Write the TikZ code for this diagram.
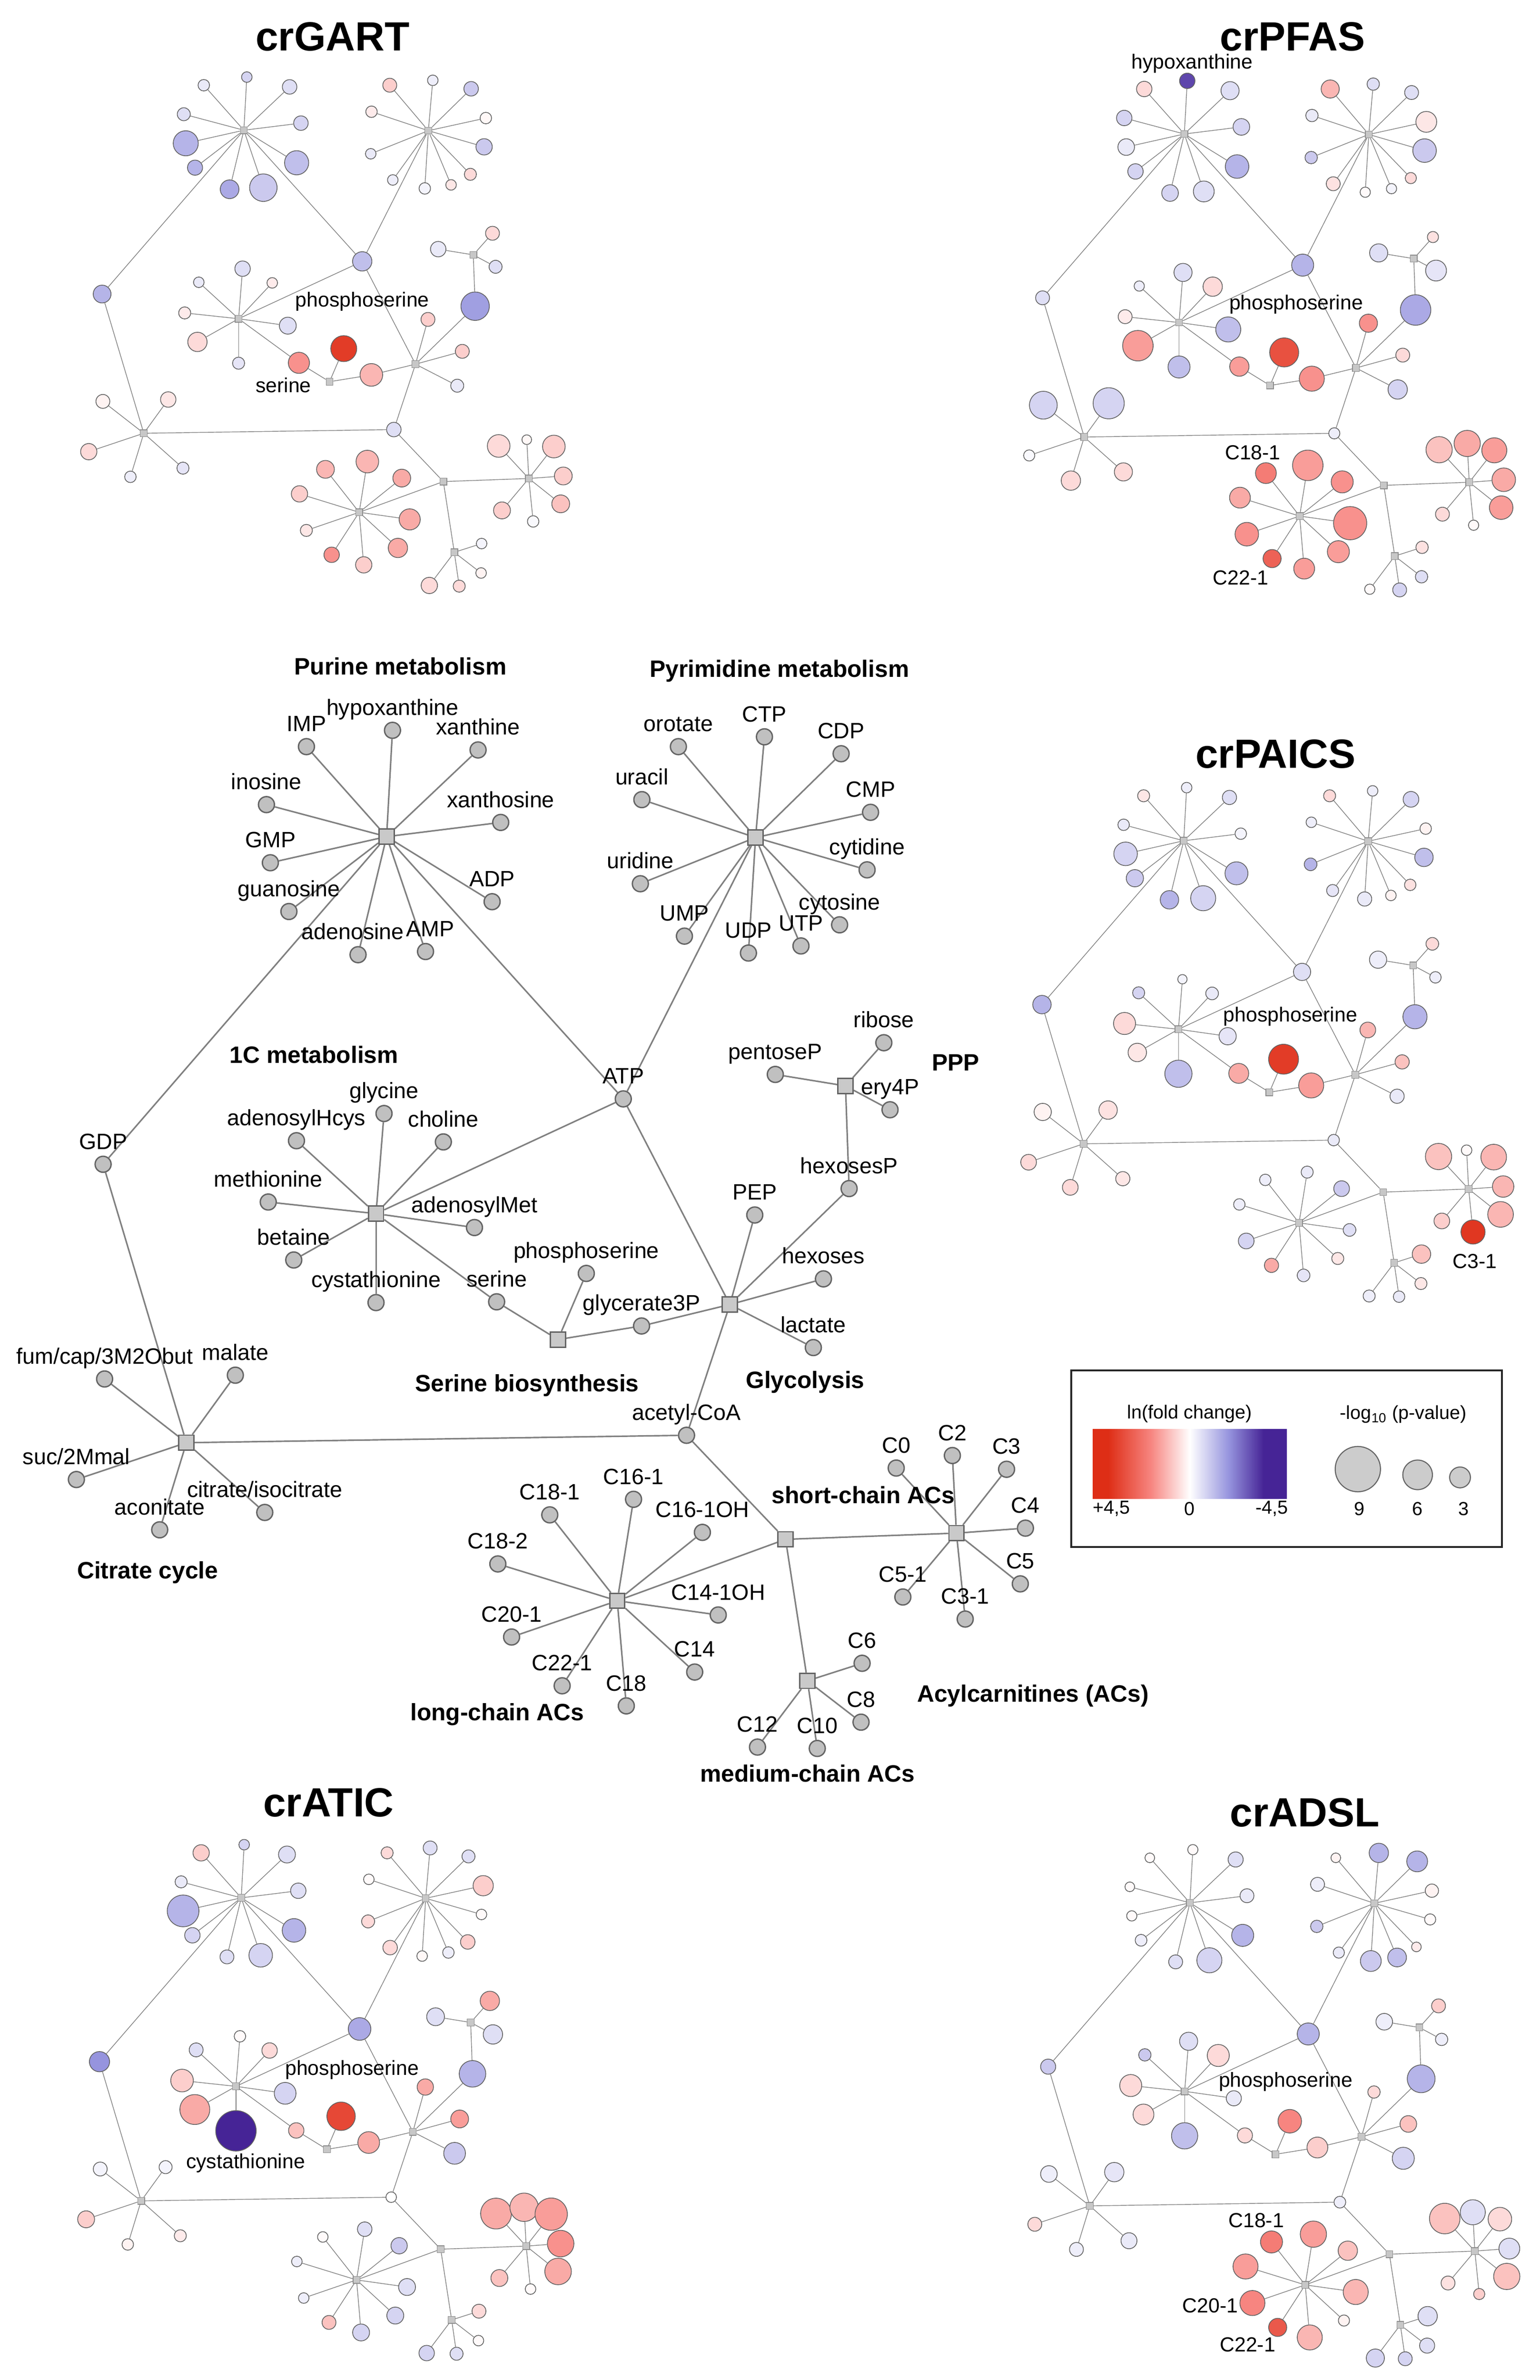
\documentclass[tikz,border=0pt]{standalone}
\usepackage{fontspec}
\setmainfont{Liberation Sans}
\usepackage{tikz}
\usetikzlibrary{calc,backgrounds}

\definecolor{fcred}{RGB}{222,46,22}
\definecolor{fcrmid}{RGB}{247,133,128}
\definecolor{fcblue}{RGB}{70,36,150}
\definecolor{fcbmid}{RGB}{150,148,222}
\definecolor{edgegray}{RGB}{128,128,128}
\definecolor{nodegray}{RGB}{192,192,192}
\definecolor{rimgray}{RGB}{100,100,100}

\pgfdeclarehorizontalshading{fcbar}{100bp}{color(0bp)=(fcred); color(29bp)=(fcred); color(40bp)=(fcrmid); color(50bp)=(white); color(60bp)=(fcbmid); color(69bp)=(fcblue); color(100bp)=(fcblue)}

% fill colour from a signed fold change code (+ red, - blue)
\newcommand{\fcset}[1]{%
    \pgfmathtruncatemacro\fcv{#1}%
    \pgfmathtruncatemacro\fca{abs(\fcv)}%
    \ifnum\fcv<0 \def\fcm{fcbmid}\def\fcs{fcblue}\else\def\fcm{fcrmid}\def\fcs{fcred}\fi
    \ifnum\fca>50
        \pgfmathtruncatemacro\fcb{2*(\fca-50)}%
        \colorlet{fctmp}{\fcs!\fcb!\fcm}%
    \else
        \pgfmathtruncatemacro\fcb{2*\fca}%
        \colorlet{fctmp}{\fcm!\fcb!white}%
    \fi}

\def\hublist{pur/256.1/554.1, pyr/500.5/554.7, onec/249.1/803.8, serh/369.6/887.2,
glyh/483.5/864.0, ppp/560.1/719.2, cit/123.5/955.5, acyl/520.4/1019.5,
lng/408.9/1060.2, sht/633.6/1015.4, med/534.9/1113.2}

\def\metlist{IMP/203.0/494.5/IMP, hypox/260.0/483.7/hypoxanthine, xanth/316.7/496.7/xanthine,
inos/176.5/532.9/inosine, xanthos/331.7/544.7/xanthosine, GMP/179.1/571.4/GMP,
ADP/326.0/597.2/ADP, guano/191.4/603.7/guanosine, adeno/237.2/632.3/adenosine,
AMP/281.9/630.2/AMP,
orot/449.4/494.5/orotate, CTP/506.4/488.0/CTP, CDP/557.2/499.2/CDP,
urac/425.2/529.6/uracil, CMP/576.7/538.0/CMP, cytid/574.4/576.1/cytidine,
urid/424.2/585.3/uridine, cytos/556.2/612.5/cytosine, UMP/453.4/620.0/UMP,
UDP/495.8/631.2/UDP, UTP/530.6/626.5/UTP,
ATP/412.9/727.8/ATP, GDP/68.3/771.1/GDP,
glyc/254.4/737.5/glycine, aHcys/196.4/755.5/adenosylHcys, chol/293.7/756.3/choline,
meth/177.7/796.1/methionine, aMet/314.3/813.0/adenosylMet, beta/194.6/834.5/betaine,
cysta/249.1/862.7/cystathionine, ser/329.0/862.2/serine,
pser/388.4/843.4/phosphoserine, g3P/425.0/878.2/glycerate3P,
PEP/500.0/804.7/PEP, hexs/545.5/847.0/hexoses, lact/538.8/892.5/lactate,
hexP/562.5/787.2/hexosesP,
pent/513.6/711.6/pentoseP, ribo/585.5/690.6/ribose, ery/589.6/735.0/ery4P,
fum/69.3/913.3/{fum/cap/3M2Obut}, mal/155.9/910.8/malate, suc/50.6/979.9/{suc/2Mmal},
acon/105.8/1013.2/aconitate, citr/175.4/1001.7/{citrate/isocitrate},
acCoA/454.8/950.6/acetyl-CoA,
C181/364.2/1003.3/C18-1, C161/419.7/993.0/C16-1, C161OH/465.3/1014.9/C16-1OH,
C182/329.8/1035.8/C18-2, C141OH/475.8/1069.6/C14-1OH, C201/338.9/1084.2/C20-1,
C14/460.2/1107.4/C14, C221/372.4/1116.5/C22-1, C18/414.9/1129.8/C18,
C0/593.7/972.3/C0, C2/630.9/964.0/C2, C3/666.8/973.1/C3, C4/679.3/1012.1/C4,
C5/675.9/1049.0/C5, C51/598.1/1057.7/C5-1, C31/639.4/1072.3/C3-1,
C6/571.1/1101.6/C6, C8/570.4/1140.6/C8, C12/501.8/1157.1/C12, C10/541.4/1158.0/C10}

\def\netedges{pur/IMP, pur/hypox, pur/xanth, pur/inos, pur/xanthos, pur/GMP, pur/ADP,
pur/guano, pur/adeno, pur/AMP, pur/ATP, pur/GDP,
pyr/orot, pyr/CTP, pyr/CDP, pyr/urac, pyr/CMP, pyr/cytid, pyr/urid, pyr/cytos,
pyr/UMP, pyr/UDP, pyr/UTP, pyr/ATP,
onec/ATP, glyh/ATP,
onec/glyc, onec/aHcys, onec/chol, onec/meth, onec/aMet, onec/beta, onec/cysta, onec/ser,
serh/ser, serh/pser, serh/g3P,
glyh/g3P, glyh/PEP, glyh/hexs, glyh/lact, glyh/hexP, glyh/acCoA,
ppp/hexP, ppp/pent, ppp/ribo, ppp/ery,
cit/GDP, cit/fum, cit/mal, cit/suc, cit/acon, cit/citr, cit/acCoA,
acyl/acCoA, acyl/lng, acyl/sht, acyl/med,
lng/C181, lng/C161, lng/C161OH, lng/C182, lng/C141OH, lng/C201, lng/C14, lng/C221, lng/C18,
sht/C0, sht/C2, sht/C3, sht/C4, sht/C5, sht/C51, sht/C31,
med/C6, med/C8, med/C12, med/C10}

% one small coloured copy of the network, half size
\newcommand{\metpanel}[3]{%
    \foreach \hb/\x/\y in \hublist {
        \node[shub] (#1-\hb) at ($(#2)+0.5*(c-\hb)$) {};
    }
    \foreach \n/\rad/\fc in {#3} {
        \fcset{\fc}
        \node[smet, minimum size=2*\rad pt, fill=fctmp] (#1-\n) at ($(#2)+0.5*(c-\n)$) {};
    }
    \begin{scope}[on background layer]
        \foreach \hb/\n in \netedges {
            \draw[sedge] (#1-\hb) -- (#1-\n);
        }
    \end{scope}%
}

\tikzset{
    cmet/.style={circle, draw=rimgray, fill=nodegray, line width=0.9pt, minimum size=10.6pt, inner sep=0pt},
    chub/.style={rectangle, draw=rimgray, fill=nodegray!85, line width=0.9pt, minimum size=10pt, inner sep=0pt},
    cedge/.style={draw=edgegray, line width=1pt},
    clabel/.style={font=\fontsize{14.7}{17}\selectfont, inner sep=0pt, anchor=base},
    lbl adeno/.style={xshift=-3.5pt},
    lbl AMP/.style={xshift=3pt},
    grouplabel/.style={font=\fontsize{15.7}{18}\selectfont\bfseries, inner sep=0pt},
    smet/.style={circle, draw=black!62, line width=0.5pt, inner sep=0pt},
    shub/.style={rectangle, draw=black!45, fill=black!22, line width=0.4pt, minimum size=4.6pt, inner sep=0pt},
    sedge/.style={draw=black!50, line width=0.45pt},
    slabel/.style={font=\fontsize{13.5}{15}\selectfont, inner sep=0pt},
    ptitle/.style={font=\fontsize{27}{30}\selectfont\bfseries, inner sep=0pt},
    legtext/.style={font=\fontsize{12.5}{14}\selectfont, inner sep=0pt},
    legcirc/.style={circle, draw=rimgray, fill=black!20, line width=0.7pt, inner sep=0pt},
}

\begin{document}
\begin{tikzpicture}[x=1pt, y=-1pt]
    \useasboundingbox (0,0) rectangle (1020,1576.3);
    \begin{scope}[on background layer]
        \fill[white] (0,0) rectangle (1020,1576.3);
    \end{scope}

    % central network
    \foreach \hb/\x/\y in \hublist {
        \node[chub] (c-\hb) at (\x,\y) {};
    }
    \foreach \n/\x/\y/\lab in \metlist {
        \node[cmet] (c-\n) at (\x,\y) {};
        \node[clabel, lbl \n/.try] (l-\n) at ([yshift=10pt]c-\n.center) {\lab};
    }
    \begin{scope}[on background layer]
        \foreach \hb/\n in \netedges {
            \draw[cedge] (c-\hb) -- (c-\n);
        }
    \end{scope}

    \node[grouplabel] (gpur) at (265.3,441.4) {Purine metabolism};
    \node[grouplabel] (gpyr) at (516.4,444.5) {Pyrimidine metabolism};
    \node[grouplabel] (gonec) at (208,698.6) {1C metabolism};
    \node[grouplabel] (gppp) at (633,703.7) {PPP};
    \node[grouplabel] (gser) at (349.1,917.5) {Serine biosynthesis};
    \node[grouplabel] (ggly) at (533.4,915.5) {Glycolysis};
    \node[grouplabel] (gcit) at (97.8,1041.5) {Citrate cycle};
    \node[grouplabel] (gsht) at (571.8,990) {short-chain ACs};
    \node[grouplabel] (glng) at (329.4,1135.5) {long-chain ACs};
    \node[grouplabel] (gmed) at (534.9,1174.5) {medium-chain ACs};
    \node[grouplabel] (gacs) at (684.3,1123) {Acylcarnitines (ACs)};

    % legend
    \draw[draw=black!85, line width=1.3pt] (709.6,907.7) rectangle (995,1024.6);
    \shade[shading=fcbar] (723.9,946.4) rectangle (852.5,992.5);
    \node[legtext] (lgfc) at (788,936.3) {ln(fold change)};
    \node[legtext] (lgpv) at (929.6,936.8) {-log\textsubscript{10} (p-value)};
    \node[legtext] (lgplus) at (736.3,999.2) {+4,5};
    \node[legtext] (lgzero) at (788,999.2) {0};
    \node[legtext] (lgminus) at (842.5,999.2) {-4,5};
    \node[legcirc, minimum size=30pt] (lc9) at (899.5,973) {};
    \node[legcirc, minimum size=19.6pt] (lc6) at (939.1,976.8) {};
    \node[legcirc, minimum size=13.8pt] (lc3) at (967.2,978.5) {};
    \node[legtext] (ln9) at (900.5,999.2) {9};
    \node[legtext] (ln6) at (939.1,999.2) {6};
    \node[legtext] (ln3) at (969.7,999.2) {3};

    % coloured panels
    \coordinate (oGART) at (33.5,-190.8);
    \coordinate (oPFAS) at (656.5,-188.3);
    \coordinate (oPAICS) at (656.1,279.8);
    \coordinate (oATIC) at (31.75,979.9);
    \coordinate (oADSL) at (660.2,983.2);

    \metpanel{GART}{oGART}{IMP/3.8/-10, hypox/3.5/-20, xanth/4.8/-15, inos/4.3/-15, xanthos/4.8/-20,
        GMP/8.3/-35, ADP/8/-30, guano/5/-35, adeno/6.2/-40, AMP/9.1/-25,
        orot/4.6/20, CTP/3.5/-8, CDP/4.8/-25, urac/3.8/8, CMP/3.8/3, cytid/5.4/-25, urid/3.5/-10,
        cytos/4/15, UMP/3.5/-8, UDP/3.8/-5, UTP/3.5/10,
        ATP/6.4/-30, GDP/5.9/-35,
        glyc/5.1/-15, aHcys/3.5/-10, chol/3.5/8, meth/4/8, aMet/5.6/-15, beta/6.4/15, cysta/4/-12, ser/7/45,
        pser/8.6/92, g3P/7.5/30,
        PEP/4.6/20, hexP/9.4/-45, hexs/4.6/20, lact/4.3/-10,
        pent/5.1/-10, ribo/4.6/15, ery/4.3/-15,
        fum/4.6/5, mal/5.1/10, suc/5.4/15, acon/3.8/-8, citr/4/-12,
        acCoA/4.8/-15,
        C181/5.9/30, C161/7.5/30, C161OH/5.9/35, C182/5.4/20, C141OH/7/35, C201/4/10, C14/6.4/35,
        C221/5.1/45, C18/5.4/20,
        C0/7.5/15, C2/3.2/3, C3/7.5/20, C4/5.9/20, C5/5.9/25, C51/5.6/20, C31/3.8/-3,
        C6/3.5/-5, C8/3.5/5, C12/5.4/15, C10/4/15}
    \node[ptitle] (tGART) at (220.4,24.2) {crGART};
    \node[slabel] (GART-lpser) at (240,199.7) {phosphoserine};
    \node[slabel] (GART-lser) at (187.7,255.1) {serine};

    \metpanel{PFAS}{oPFAS}{IMP/5.1/15, hypox/5.1/-85, xanth/6/-15, inos/5.1/-20, xanthos/5.5/-20,
        GMP/5.5/-10, ADP/7.8/-35, guano/5.1/-20, adeno/5.5/-20, AMP/6.9/-15,
        orot/6/30, CTP/4.1/-15, CDP/4.6/-15, urac/4.1/-10, CMP/6.9/10, cytid/7.8/-25, urid/4.1/-25,
        cytos/3.7/15, UMP/4.6/12, UDP/3.4/2, UTP/3.4/-5,
        ATP/7.3/-35, GDP/4.6/-15,
        glyc/6/-15, aHcys/3.4/-8, chol/6.4/15, meth/4.6/8, aMet/8.3/-30, beta/10.1/40, cysta/7.3/-30, ser/6.4/40,
        pser/9.6/80, g3P/8.3/45,
        PEP/6/45, hexP/10.1/-40, hexs/4.6/15, lact/6.4/-20,
        pent/6/-15, ribo/3.7/12, ery/6.9/-12,
        fum/9.2/-20, mal/10.3/-20, suc/3.7/-3, acon/6.4/15, citr/6/15,
        acCoA/3.7/-8,
        C181/6.9/55, C161/10.1/40, C161OH/7.3/45, C182/6.9/35, C141OH/11/45, C201/7.8/45, C14/7.3/40,
        C221/6/70, C18/6.9/40,
        C0/8.7/25, C2/8.7/35, C3/8.3/40, C4/7.8/35, C5/7.8/40, C51/4.6/15, C31/3.4/2,
        C6/4.1/12, C8/4.1/-15, C12/3.4/2, C10/4.6/-20}
    \node[ptitle] (tPFAS) at (856.3,24.2) {crPFAS};
    \node[slabel] (PFAS-lhypox) at (789.7,42.1) {hypoxanthine};
    \node[slabel] (PFAS-lpser) at (858.6,201.5) {phosphoserine};
    \node[slabel] (PFAS-lC181) at (829.9,299.7) {C18-1};
    \node[slabel] (PFAS-lC221) at (821.9,382.6) {C22-1};

    \metpanel{PAICS}{oPAICS}{IMP/4/10, hypox/3.5/-8, xanth/4.7/-15, inos/3.8/-10, xanthos/3.8/-5,
        GMP/7.8/-20, ADP/7.6/-30, guano/5.7/-25, adeno/6.1/-35, AMP/8.3/-20,
        orot/4/15, CTP/3.5/-8, CDP/5.2/-20, urac/3.5/-8, CMP/3.8/5, cytid/6.1/-30, urid/4.2/-35,
        cytos/3.8/12, UMP/4/-12, UDP/4.7/-10, UTP/3.5/5,
        ATP/5.7/-15, GDP/6.1/-35,
        glyc/3.1/-5, aHcys/4/-20, chol/4.2/-10, meth/7.3/15, aMet/5.7/-12, beta/6.1/10, cysta/9/-30, ser/6.6/35,
        pser/9.9/92, g3P/8.3/40,
        PEP/5.2/30, hexP/8/-35, hexs/4.7/25, lact/4.7/-10,
        pent/5.7/-8, ribo/4.2/15, ery/3.8/-8,
        fum/5.7/5, mal/6.1/12, suc/5.2/15, acon/5.2/15, citr/4.7/10,
        acCoA/3.8/-10,
        C181/3.8/-8, C161/4/-10, C161OH/5.2/-25, C182/3.8/-8, C141OH/4.2/-15, C201/5.2/-20, C14/4/10,
        C221/4.7/35, C18/4.2/-12,
        C0/8.7/25, C2/3.5/2, C3/8.5/30, C4/7.1/30, C5/8.5/30, C51/5.2/20, C31/8/95,
        C6/6.1/25, C8/4/10, C12/4/-8, C10/3.8/-10}
    \node[ptitle] (tPAICS) at (845,499.3) {crPAICS};
    \node[slabel] (PAICS-lpser) at (854.8,673.3) {phosphoserine};
    \node[slabel] (PAICS-lC31) at (976.9,835.3) {C3-1};

    \metpanel{ATIC}{oATIC}{IMP/5.4/20, hypox/3.5/-20, xanth/5.6/-15, inos/4/-10, xanthos/5.1/-15,
        GMP/10.5/-35, ADP/7.8/-35, guano/5.1/-20, adeno/4.6/-15, AMP/7.8/-20,
        orot/4/15, CTP/4.6/-15, CDP/4.3/-15, urac/3.5/2, CMP/6.7/20, cytid/3.5/2, urid/4.3/15,
        cytos/4.8/20, UMP/4.8/15, UDP/3.5/3, UTP/3.8/-8,
        ATP/7.5/-40, GDP/6.7/-50,
        glyc/3.8/2, aHcys/4.6/-15, chol/5.1/15, meth/7.5/20, aMet/7.2/-20, beta/9.9/35, cysta/13.4/-100, ser/5.1/25,
        pser/9.4/85, g3P/7.2/35,
        PEP/5.4/35, hexP/8.8/-35, hexs/5.9/40, lact/7.2/-25,
        pent/5.9/-15, ribo/6.4/35, ery/6.4/-15,
        fum/4.6/-5, mal/4.3/-5, suc/5.6/20, acon/3.8/5, citr/4/8,
        acCoA/3.5/0,
        C181/3.5/2, C161/4.8/-15, C161OH/5.4/-25, C182/3.5/-8, C141OH/5.6/-15, C201/3.5/-8, C14/5.6/-20,
        C221/4.6/25, C18/5.6/-20,
        C0/10.2/35, C2/9.4/30, C3/10.7/40, C4/8.8/45, C5/8.8/35, C51/5.6/25, C31/3.5/2,
        C6/4.6/15, C8/3.5/2, C12/5.1/-20, C10/4.3/-15}
    \node[ptitle] (tATIC) at (217.7,1193.9) {crATIC};
    \node[slabel] (ATIC-lpser) at (233.2,1371) {phosphoserine};
    \node[slabel] (ATIC-lcysta) at (162.7,1432.7) {cystathionine};

    \metpanel{ADSL}{oADSL}{IMP/3.2/2, hypox/3.4/2, xanth/5/-15, inos/3.2/2, xanthos/4.6/-10,
        GMP/3.4/2, ADP/7.3/-35, guano/3.9/-8, adeno/4.6/-15, AMP/8.3/-20,
        orot/3.2/5, CTP/6.4/-35, CDP/6.9/-35, urac/4.6/-8, CMP/4.4/5, cytid/3.7/2, urid/4.1/-25,
        cytos/3.2/8, UMP/3.7/-10, UDP/6.9/-25, UTP/6.2/-30,
        ATP/7.3/-35, GDP/5/-25,
        glyc/6/-15, aHcys/4.1/-25, chol/7.3/15, meth/7.3/15, aMet/5/-10, beta/6.9/15, cysta/8.7/-30, ser/5/15,
        pser/7.8/50, g3P/6.9/20,
        PEP/4.1/15, hexP/9.2/-35, hexs/5.5/25, lact/7.3/-20,
        pent/5.5/-8, ribo/4.6/20, ery/4.1/-8,
        fum/5.5/-8, mal/6.4/-12, suc/4.6/15, acon/4.6/-8, citr/5.3/-10,
        acCoA/3.9/-8,
        C181/7.3/55, C161/8.7/40, C161OH/6.4/25, C182/8.3/40, C141OH/8.3/30, C201/8.3/50, C14/3.7/5,
        C221/6/75, C18/8.3/30,
        C0/10.1/25, C2/8.3/-15, C3/7.8/15, C4/6.9/-15, C5/8.7/25, C51/4.6/12, C31/3.7/20,
        C6/6.4/-15, C8/5/-15, C12/6/-20, C10/4.6/-20}
    \node[ptitle] (tADSL) at (864.3,1200.4) {crADSL};
    \node[slabel] (ADSL-lpser) at (851.7,1378.9) {phosphoserine};
    \node[slabel] (ADSL-lC181) at (832.2,1470.7) {C18-1};
    \node[slabel] (ADSL-lC201) at (801.7,1527.1) {C20-1};
    \node[slabel] (ADSL-lC221) at (826.5,1552.8) {C22-1};
\end{tikzpicture}
\end{document}
